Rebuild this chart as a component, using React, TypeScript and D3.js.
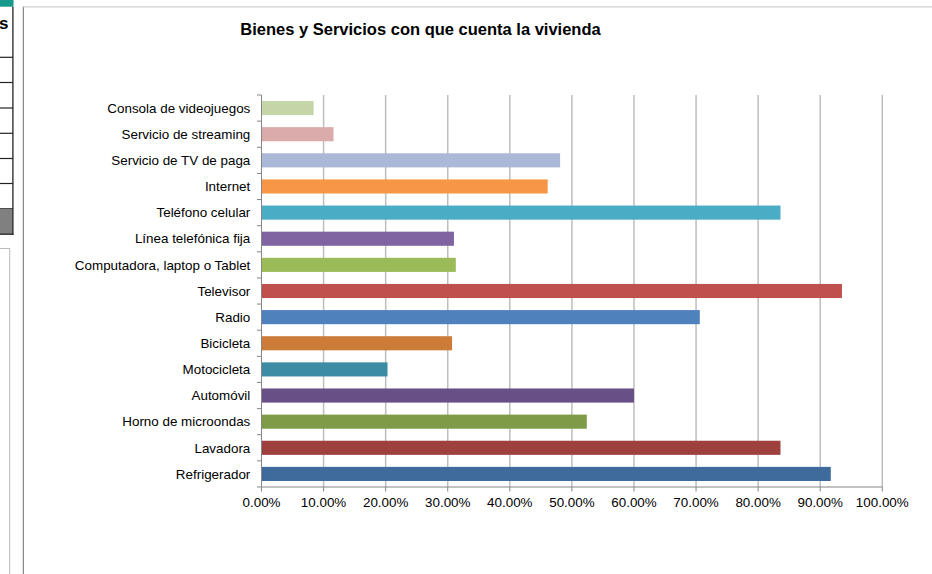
import React from "react";
import * as d3 from "d3";

const categories = [
  "Consola de videojuegos",
  "Servicio de streaming",
  "Servicio de TV de paga",
  "Internet",
  "Teléfono celular",
  "Línea telefónica fija",
  "Computadora, laptop o Tablet",
  "Televisor",
  "Radio",
  "Bicicleta",
  "Motocicleta",
  "Automóvil",
  "Horno de microondas",
  "Lavadora",
  "Refrigerador",
];

const values = [8.4, 11.6, 48.1, 46.1, 83.6, 31.0, 31.3, 93.5, 70.6, 30.7, 20.3, 60.0, 52.4, 83.6, 91.7];

const colors = [
  "#C4D6A8", "#DBABAB", "#AAB9D7", "#F79646", "#4BACC6", "#8064A2", "#9BBB59",
  "#C0504D", "#4F81BD", "#CC7B38", "#3B8CA4", "#684F86", "#7F9B48", "#9E403E", "#3F6A9C",
];

const xTicks = [0, 10, 20, 30, 40, 50, 60, 70, 80, 90, 100];

const title = "Bienes y Servicios con que cuenta la vivienda";

export default function App() {
  const W = 932, H = 574;
  const left = 261.5, right = 882.3, top = 95, bottom = 487;
  const x = d3.scaleLinear().domain([0, 100]).range([left, right]);
  const p = 0.46;
  const y = d3.scaleBand<string>().domain(categories).range([top, bottom]).paddingInner(p).paddingOuter(p / 2);
  const step = y.step();
  const font = "'Liberation Sans', Arial, sans-serif";
  const rowLines = [57.3, 82.5, 108, 133.3, 158.5, 183.5, 208.7];

  return (
    <svg width={W} height={H} style={{ position: "absolute", left: 0, top: 0, background: "#fff" }} fontFamily={font}>
      <rect x={0} y={0} width={W} height={H} fill="#fff" />
      {/* spreadsheet fragment on the left */}
      <rect x={0} y={0} width={13.5} height={6.7} fill="#17998C" />
      <text x={-1} y={29} fontSize={17} fontWeight="bold" fill="#000">s</text>
      {rowLines.map((ry, i) => (
        <line key={i} x1={0} x2={13} y1={ry} y2={ry} stroke="#222" strokeWidth={1.2} />
      ))}
      <rect x={0} y={208.7} width={12.7} height={25.3} fill="#808080" />
      <line x1={0} x2={13.5} y1={234.2} y2={234.2} stroke="#222" strokeWidth={1.3} />
      <line x1={12.9} x2={12.9} y1={6.7} y2={234.8} stroke="#222" strokeWidth={1.3} />
      <line x1={0} x2={10} y1={248.5} y2={248.5} stroke="#bbb" strokeWidth={1} />
      <line x1={9.7} x2={9.7} y1={248.5} y2={H} stroke="#bbb" strokeWidth={1} />
      <line x1={23.3} x2={23.3} y1={6.5} y2={H} stroke="#6b6b6b" strokeWidth={1} />
      <line x1={23.3} x2={W} y1={6.8} y2={6.8} stroke="#cfcfcf" strokeWidth={1.2} />

      <text x={420.5} y={35} textAnchor="middle" fontSize={16.5} fontWeight="bold" fill="#000">{title}</text>

      {/* gridlines */}
      {xTicks.slice(1).map((t) => (
        <line key={t} x1={x(t)} x2={x(t)} y1={top} y2={bottom} stroke="#BEBEBE" strokeWidth={1.5} />
      ))}

      {/* bars */}
      {categories.map((c, i) => (
        <rect key={c} x={x(0)} y={y(c)!} width={x(values[i]) - x(0)} height={y.bandwidth()} fill={colors[i]} />
      ))}

      {/* axes */}
      <line x1={left} x2={left} y1={top} y2={bottom} stroke="#868686" strokeWidth={1} />
      <line x1={left} x2={right} y1={bottom} y2={bottom} stroke="#868686" strokeWidth={1} />
      {d3.range(categories.length + 1).map((i) => (
        <line key={i} x1={left - 4.5} x2={left} y1={top + i * step} y2={top + i * step} stroke="#868686" strokeWidth={1} />
      ))}
      {xTicks.map((t) => (
        <line key={t} x1={x(t)} x2={x(t)} y1={bottom} y2={bottom + 4.5} stroke="#868686" strokeWidth={1} />
      ))}

      {/* labels */}
      {categories.map((c) => (
        <text key={c} x={250.3} y={y(c)! + y.bandwidth() / 2 + 4.7} textAnchor="end" fontSize={13.4} fill="#000">{c}</text>
      ))}
      {xTicks.map((t) => (
        <text key={t} x={x(t)} y={506.5} textAnchor="middle" fontSize={13.4} fill="#000">{t.toFixed(2) + "%"}</text>
      ))}
    </svg>
  );
}
